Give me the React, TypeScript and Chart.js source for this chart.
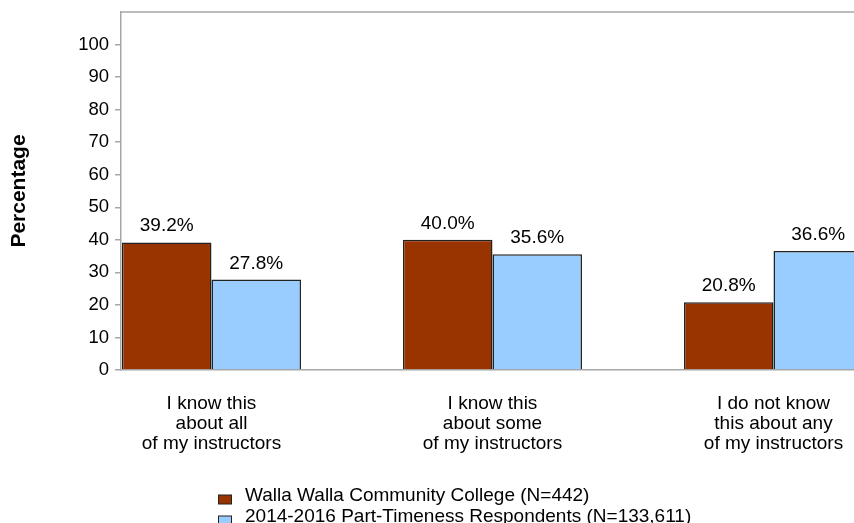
import React, { useEffect, useRef } from 'react';
import { Chart, registerables } from 'chart.js';

Chart.register(...registerables);

const categories: string[][] = [
  ['I know this', 'about all', 'of my instructors'],
  ['I know this', 'about some', 'of my instructors'],
  ['I do not know', 'this about any', 'of my instructors'],
];
const seriesNames = [
  'Walla Walla Community College (N=442)',
  '2014-2016 Part-Timeness Respondents (N=133,611)',
];
const collegeValues = [39.2, 40.0, 20.8];
const cohortValues = [27.8, 35.6, 36.6];
const yTicks = [0, 10, 20, 30, 40, 50, 60, 70, 80, 90, 100];
const xPositions = [0, 1, 2];

const X_MIN = -0.322;
const X_MAX = 2.2865;

const COLORS = ['#993300', '#99ccff'];
const BORDER = '#222222';
const AXIS = '#a6a6a6';
const FONT = '"Liberation Sans", Arial, Helvetica, sans-serif';

const decorPlugin = {
  id: 'decor',
  afterDatasetsDraw(chart: any) {
    const { ctx, chartArea } = chart;
    ctx.save();
    // top frame line
    ctx.strokeStyle = AXIS;
    ctx.lineWidth = 1.5;
    ctx.beginPath();
    ctx.moveTo(chartArea.left, chartArea.top);
    ctx.lineTo(chartArea.right, chartArea.top);
    ctx.stroke();

    // value labels
    ctx.font = `19px ${FONT}`;
    ctx.fillStyle = '#000';
    ctx.textAlign = 'center';
    ctx.textBaseline = 'alphabetic';
    chart.data.datasets.forEach((ds: any, di: number) => {
      const meta = chart.getDatasetMeta(di);
      meta.data.forEach((bar: any, i: number) => {
        const v = ds.data[i].y as number;
        ctx.fillText(v.toFixed(1) + '%', bar.x, bar.y - 11);
      });
    });

    // legend
    const baselines = [501, 522];
    ctx.textAlign = 'left';
    chart.data.datasets.forEach((ds: any, di: number) => {
      const yb = baselines[di];
      ctx.fillStyle = ds.backgroundColor;
      ctx.fillRect(218.5, yb - 6, 13, 9);
      ctx.strokeStyle = BORDER;
      ctx.lineWidth = 1;
      ctx.strokeRect(218.5, yb - 6, 13, 9);
      ctx.fillStyle = '#000';
      ctx.fillText(ds.label, 245, yb);
    });
    ctx.restore();
  },
};

export default function App() {
  const ref = useRef<HTMLCanvasElement | null>(null);

  useEffect(() => {
    document.body.style.margin = '0';
    document.body.style.overflow = 'hidden';
    const canvas = ref.current;
    if (!canvas) return;

    const makeData = (vals: number[]) => vals.map((v, i) => ({ x: xPositions[i], y: v }));

    const chart = new Chart(canvas, {
      type: 'bar',
      data: {
        datasets: [
          {
            label: seriesNames[0],
            data: makeData(collegeValues),
            backgroundColor: COLORS[0],
            borderColor: BORDER,
            borderWidth: 1.5,
            categoryPercentage: 0.637,
            barPercentage: 1,
          },
          {
            label: seriesNames[1],
            data: makeData(cohortValues),
            backgroundColor: COLORS[1],
            borderColor: BORDER,
            borderWidth: 1.5,
            categoryPercentage: 0.637,
            barPercentage: 1,
          },
        ],
      },
      options: {
        animation: false,
        responsive: false,
        maintainAspectRatio: false,
        layout: { padding: { top: 12, left: 0, right: 0, bottom: 0 } },
        plugins: {
          legend: { display: false },
          tooltip: { enabled: false },
        },
        scales: {
          x: {
            type: 'linear',
            offset: false,
            bounds: 'data',
            min: X_MIN,
            max: X_MAX,
            grid: { offset: false, drawOnChartArea: false, drawTicks: false },
            border: { display: true, color: AXIS, width: 1.5 },
            ticks: {
              autoSkip: false,
              maxRotation: 0,
              minRotation: 0,
              padding: 24,
              color: '#000',
              font: { family: FONT, size: 19, lineHeight: 20 / 19 },
              callback: (value: any) => categories[Math.round(Number(value))] ?? '',
            },
            afterBuildTicks: (scale: any) => {
              scale.ticks = xPositions.map((v) => ({ value: v }));
            },
            afterFit: (scale: any) => {
              scale.height = 153;
              scale.paddingLeft = 0;
              scale.paddingRight = 0;
            },
          },
          y: {
            min: 0,
            max: 110,
            grid: { drawOnChartArea: false, drawTicks: true, tickLength: 6, color: AXIS, lineWidth: 1.5 },
            border: { display: true, color: AXIS, width: 1.5 },
            ticks: {
              padding: 6,
              color: '#000',
              font: { family: FONT, size: 18.5 },
            },
            afterBuildTicks: (scale: any) => {
              scale.ticks = yTicks.map((v) => ({ value: v }));
            },
            afterFit: (scale: any) => {
              scale.width = 121;
              scale.paddingTop = 0;
              scale.paddingBottom = 0;
            },
            title: {
              display: true,
              text: 'Percentage',
              color: '#000',
              font: { family: FONT, size: 21, weight: 'bold' },
              padding: { top: 7, bottom: 0 },
            },
          },
        },
      },
      plugins: [decorPlugin],
    } as any);

    return () => chart.destroy();
  }, []);

  return (
    <div style={{ width: 854, height: 523, overflow: 'hidden' }}>
      <canvas ref={ref} width={854} height={523} style={{ display: 'block' }} />
    </div>
  );
}
